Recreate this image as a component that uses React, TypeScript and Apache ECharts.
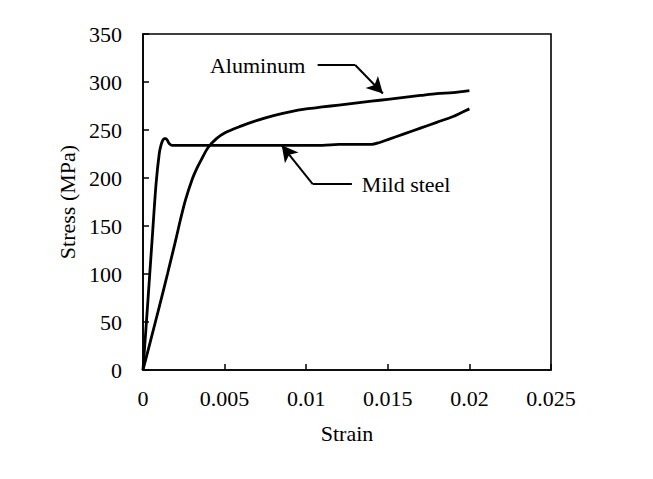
import React, { useEffect, useRef } from "react";
import * as echarts from "echarts";

// Strain, stress (MPa)
const steelStrain = [0, 0.0003, 0.0006, 0.0008, 0.001, 0.0011, 0.0012, 0.0013, 0.0014, 0.0015, 0.0016, 0.0018, 0.002, 0.005, 0.01, 0.011, 0.012, 0.013, 0.014, 0.0145, 0.015, 0.016, 0.017, 0.018, 0.019, 0.0195, 0.02];
const steelStress = [0, 72, 146, 194, 226, 234, 239, 241, 241, 239, 236, 234, 234, 234, 234, 234, 235, 235, 235, 237, 240, 246, 252, 258, 264, 268, 272];

const alStrain = [0, 0.0005, 0.001, 0.0015, 0.002, 0.0023, 0.0026, 0.003, 0.0033, 0.0036, 0.004, 0.0045, 0.005, 0.006, 0.007, 0.008, 0.009, 0.01, 0.011, 0.012, 0.013, 0.014, 0.015, 0.016, 0.017, 0.018, 0.019, 0.02];
const alStress = [0, 33, 66, 100, 135, 157, 177, 198, 210, 220, 232, 241, 247, 254, 260, 265, 269, 272, 274, 276, 278, 280, 282, 284, 286, 288, 289, 291];

const xTicks = [0, 0.005, 0.01, 0.015, 0.02, 0.025];
const yTicks = [0, 50, 100, 150, 200, 250, 300, 350];

// Annotation labels and leader lines (data coordinates)
const alLabel = { text: "Aluminum", at: [0.0041, 317.7] };
const alLeader = [[0.0107, 317.7], [0.013, 317.7], [0.0147, 288]];
const steelLabel = { text: "Mild steel", at: [0.01341, 193.7] };
const steelLeader = [[0.0128, 193.7], [0.0104, 193.7], [0.0085, 234]];

const FONT = "Liberation Serif";
const FS = 22;

function pairs(xs: number[], ys: number[]) {
  return xs.map((x, i) => [x, ys[i]]);
}

function leaderData(pts: number[][]) {
  return [
    [{ coord: pts[0], symbol: "none" }, { coord: pts[1], symbol: "none" }],
    [{ coord: pts[1], symbol: "none" }, { coord: pts[2], symbol: "arrow", symbolSize: [13, 16] }],
  ];
}

export default function App() {
  const ref = useRef<HTMLDivElement>(null);
  useEffect(() => {
    document.body.style.margin = "0";
    const chart = echarts.init(ref.current!, null, { renderer: "svg" });
    chart.setOption({
      animation: false,
      backgroundColor: "#fff",
      grid: { left: 143, right: 102, top: 34, bottom: 109, show: true, borderColor: "#000", borderWidth: 1.6 },
      xAxis: {
        type: "value",
        min: xTicks[0],
        max: xTicks[xTicks.length - 1],
        interval: 0.005,
        name: "Strain",
        nameLocation: "middle",
        nameGap: 52,
        nameTextStyle: { fontFamily: FONT, fontSize: FS, color: "#000" },
        axisLine: { lineStyle: { color: "#000", width: 1.6 } },
        axisTick: { inside: true, length: 6, lineStyle: { color: "#000", width: 1.5 } },
        axisLabel: { fontFamily: FONT, fontSize: FS, color: "#000", margin: 17, formatter: (v: number) => String(parseFloat(v.toFixed(3))) },
        splitLine: { show: false },
      },
      yAxis: {
        type: "value",
        min: yTicks[0],
        max: yTicks[yTicks.length - 1],
        interval: 50,
        name: "Stress (MPa)",
        nameLocation: "middle",
        nameGap: 65,
        nameTextStyle: { fontFamily: FONT, fontSize: FS, color: "#000" },
        axisLine: { show: true, lineStyle: { color: "#000", width: 1.6 } },
        axisTick: { show: true, inside: true, length: 6, lineStyle: { color: "#000", width: 1.5 } },
        axisLabel: { fontFamily: FONT, fontSize: FS, color: "#000", margin: 21 },
        splitLine: { show: false },
      },
      series: [
        {
          name: "Mild steel",
          type: "line",
          data: pairs(steelStrain, steelStress),
          showSymbol: false,
          smooth: 0.3,
          lineStyle: { color: "#000", width: 2.8 },
          markLine: {
            silent: true,
            animation: false,
            lineStyle: { color: "#000", width: 2, type: "solid" },
            label: { show: false },
            data: leaderData(steelLeader),
          },
        },
        {
          name: "Aluminum",
          type: "line",
          data: pairs(alStrain, alStress),
          showSymbol: false,
          smooth: 0.3,
          lineStyle: { color: "#000", width: 2.8 },
          markLine: {
            silent: true,
            animation: false,
            lineStyle: { color: "#000", width: 2, type: "solid" },
            label: { show: false },
            data: leaderData(alLeader),
          },
        },
      ],
    });
    const a = chart.convertToPixel({ gridIndex: 0 }, alLabel.at) as number[];
    const s = chart.convertToPixel({ gridIndex: 0 }, steelLabel.at) as number[];
    chart.setOption({
      graphic: [
        { type: "text", x: a[0], y: a[1], style: { text: alLabel.text, fontFamily: FONT, fontSize: FS, fill: "#000", align: "left", verticalAlign: "middle" } },
        { type: "text", x: s[0], y: s[1], style: { text: steelLabel.text, fontFamily: FONT, fontSize: FS, fill: "#000", align: "left", verticalAlign: "middle" } },
      ],
    });
    return () => chart.dispose();
  }, []);
  return <div ref={ref} style={{ width: 653, height: 479 }} />;
}
